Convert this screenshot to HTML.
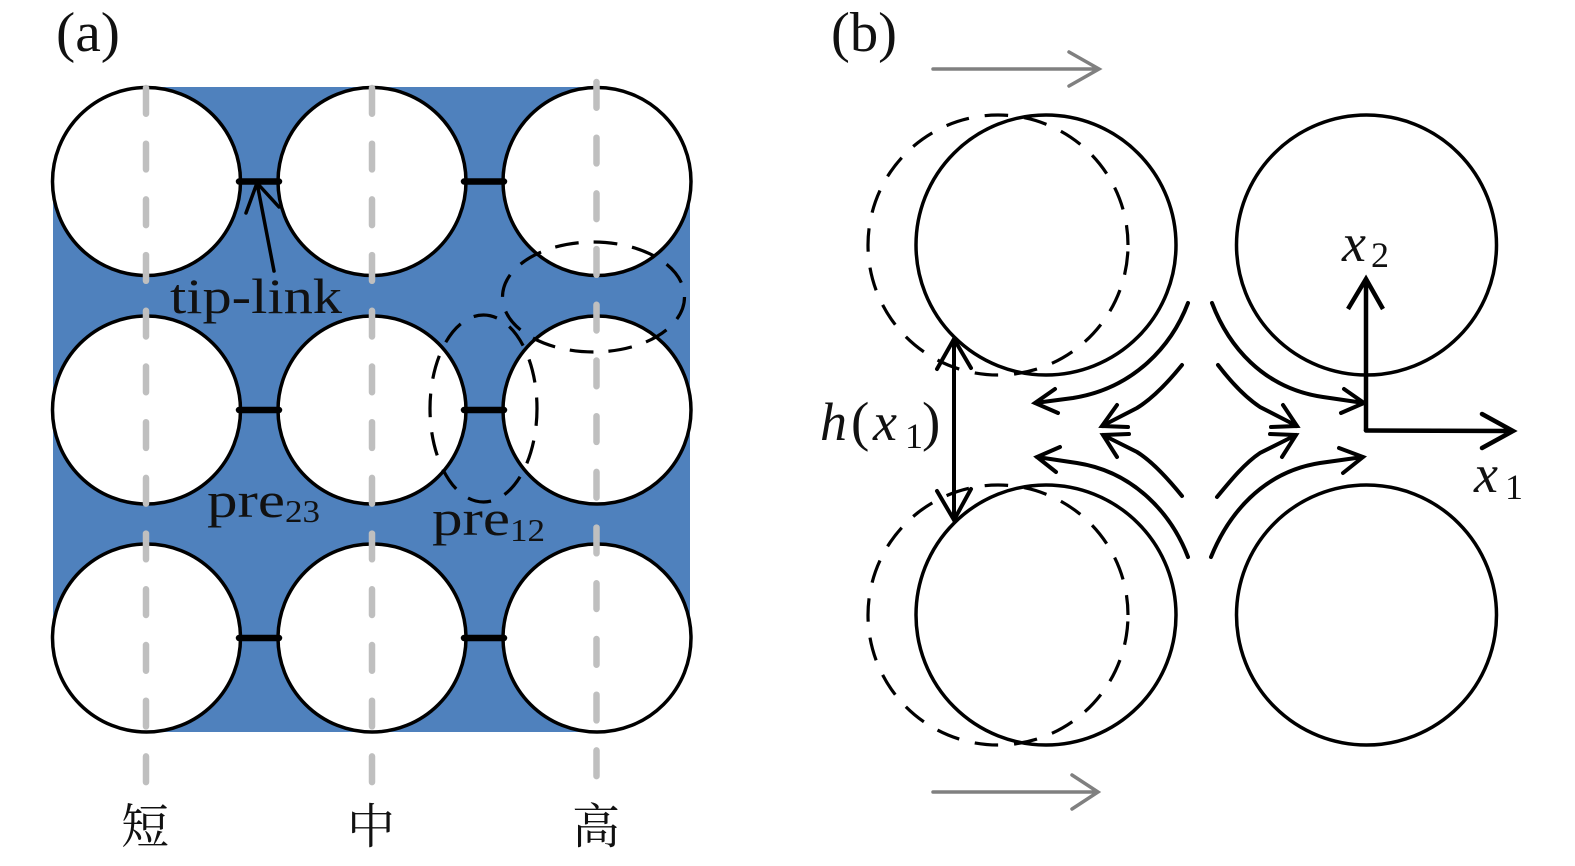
<!DOCTYPE html>
<html lang="zh"><head><meta charset="utf-8"><title>Diagram</title>
<style>
html,body{margin:0;padding:0;background:#fff;width:1575px;height:866px;overflow:hidden}
svg{display:block}
text{font-family:"Liberation Serif","Noto Serif CJK SC",serif;fill:#111}
.i{font-style:italic}
.c{fill:#fff;stroke:#000;stroke-width:3.5}
.n{fill:none;stroke:#000;stroke-width:3.5}
.d{fill:none;stroke:#000;stroke-width:3.2}
.g{fill:none;stroke:#bfbfbf;stroke-width:6.5;stroke-linecap:round;stroke-dasharray:25.7 30}
.b{stroke:#000;stroke-width:6.5;stroke-linecap:round}
.a{fill:none;stroke:#000;stroke-width:4;stroke-linecap:round;stroke-linejoin:miter}
.y{fill:none;stroke:#808080;stroke-width:3.5;stroke-linecap:round}
</style></head><body>
<svg width="1575" height="866" viewBox="0 0 1575 866" xmlns="http://www.w3.org/2000/svg">
<rect x="53" y="87" width="637" height="645" rx="94" ry="94" fill="#4f81bd"/>
<g class="c">
<circle cx="146.5" cy="181.5" r="94"/><circle cx="372" cy="181.5" r="94"/><circle cx="597" cy="181.5" r="94"/>
<circle cx="146.5" cy="410" r="94"/><circle cx="372" cy="410" r="94"/><circle cx="597" cy="410" r="94"/>
<circle cx="146.5" cy="638" r="94"/><circle cx="372" cy="638" r="94"/><circle cx="597" cy="638" r="94"/>
</g>
<g class="b">
<path d="M239 181.5H279M464 181.5H504M239 410H279M464 410H504M239 638H279M464 638H504"/>
</g>
<path class="g" d="M146 88V784"/><path class="g" d="M372 88V784"/><path class="g" d="M596.5 82V778"/>
<ellipse class="d" cx="483.5" cy="408.5" rx="53.5" ry="93.5" stroke-dasharray="23.8 15" stroke-dashoffset="6.5"/>
<ellipse class="d" cx="593.5" cy="297" rx="91" ry="55" stroke-dasharray="23.8 15"/>
<path class="n" stroke-linecap="round" d="M274 271L257 183M246 213L257 183L279 207" style="stroke-width:3.5"/>
<text x="170" y="313" font-size="50" textLength="172" lengthAdjust="spacingAndGlyphs">tip-link</text>
<text x="207" y="517" font-size="50" textLength="78" lengthAdjust="spacingAndGlyphs">pre</text>
<text x="285" y="522" font-size="32" textLength="35" lengthAdjust="spacingAndGlyphs">23</text>
<text x="432" y="535" font-size="50" textLength="78" lengthAdjust="spacingAndGlyphs">pre</text>
<text x="510" y="541" font-size="32" textLength="35" lengthAdjust="spacingAndGlyphs">12</text>
<text x="56" y="51" font-size="56" textLength="64" lengthAdjust="spacingAndGlyphs">(a)</text>
<text x="831" y="51" font-size="56" textLength="66" lengthAdjust="spacingAndGlyphs">(b)</text>
<text x="145" y="843" font-size="48" text-anchor="middle">短</text>
<text x="371" y="843" font-size="48" text-anchor="middle">中</text>
<text x="596" y="843" font-size="48" text-anchor="middle">高</text>

<g class="n">
<circle cx="1046" cy="245" r="130"/><circle cx="1366.5" cy="245" r="130"/>
<circle cx="1046" cy="615" r="130"/><circle cx="1366.5" cy="615" r="130"/>
</g>
<circle class="d" cx="998" cy="245" r="130" stroke-dasharray="23.5 16" stroke-dashoffset="-6.5"/>
<circle class="d" cx="998" cy="615" r="130" stroke-dasharray="23.5 16" stroke-dashoffset="-6.5"/>

<path class="y" d="M933 69H1099M1069 52L1099 69L1069 86"/>
<path class="y" d="M933 792H1098M1072 775L1098 792L1072 809"/>

<path class="a" d="M954 339V520M937 369L954 339L971 368M937 491L954 520L971 489"/>
<text x="820" y="440" font-size="54" class="i">h</text>
<text x="851" y="440" font-size="55">(</text>
<text x="873" y="440" font-size="54" class="i">x</text>
<text x="905" y="448" font-size="36">1</text>
<text x="922" y="440" font-size="55">)</text>

<g class="a">
<path d="M1188 303C1172 345 1135 388 1073 398L1035 403M1055 389L1035 403L1058 413"/>
<path d="M1182 365C1165 386 1150 400 1137 408L1102 426M1117 405L1102 426L1128 427"/>
<path d="M1182 496C1165 475 1150 460 1137 452L1103 435M1129 434L1103 435L1117 457"/>
<path d="M1188 557C1172 515 1135 472 1077 463L1037 457M1060 447L1037 457L1056 472"/>
<path d="M1212 303C1228 345 1262 388 1323 397L1364 403M1344 389L1364 403L1341 413"/>
<path d="M1218 365C1231 382 1245 397 1260 407L1297 426M1283 405L1297 426L1271 427"/>
<path d="M1217 497C1231 480 1245 463 1260 453L1296 435M1270 434L1296 435L1282 457"/>
<path d="M1211 557C1228 515 1262 472 1320 463L1363 457M1339 448L1363 457L1343 473"/>
<path stroke-linecap="butt" d="M1366 431V279M1348 309L1366 279L1383 309" style="stroke-width:4.5"/>
<path d="M1366 430.5L1513 431M1482 414L1513 431L1482 448" style="stroke-width:4.5"/>
</g>
<text x="1342" y="261" font-size="54" class="i">x</text>
<text x="1371" y="267" font-size="36">2</text>
<text x="1474" y="492" font-size="54" class="i">x</text>
<text x="1505" y="499" font-size="36">1</text>
</svg>
</body></html>
